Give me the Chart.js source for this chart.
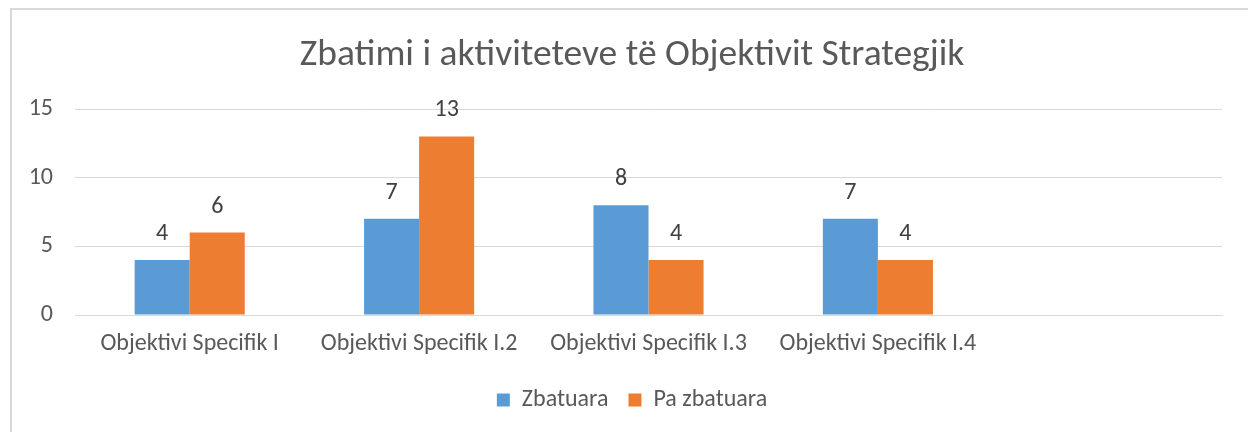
<!DOCTYPE html>
<html>
<head>
<meta charset="utf-8">
<script src="https://cdn.jsdelivr.net/npm/chart.js@4/dist/chart.umd.min.js"></script>
<style>
  html, body { margin: 0; padding: 0; background: #fff; }
  #frame { position: absolute; left: 10px; top: 8px; width: 1300px; height: 500px;
           border: 2px solid #d9d9d9; box-sizing: border-box; }
  #wrap { position: absolute; left: 0; top: 0; width: 1248px; height: 432px; }
</style>
</head>
<body>
<div id="frame"></div>
<div id="wrap"><canvas id="chartStrategjik" width="1248" height="432"></canvas></div>
<script>
// data
var categories = ['Objektivi Specifik I', 'Objektivi Specifik I.2', 'Objektivi Specifik I.3', 'Objektivi Specifik I.4', ''];
var zbatuara = [4, 7, 8, 7, null];
var paZbatuara = [6, 13, 4, 4, null];
var seriesNames = ['Zbatuara', 'Pa zbatuara'];
var yTicks = [0, 5, 10, 15];

var fontFam = 'Carlito, Lato, "Open Sans", sans-serif';
var grey = '#595959';

// value labels above each bar
var barLabels = {
  id: 'barLabels',
  afterDatasetsDraw: function(chart) {
    var ctx = chart.ctx;
    ctx.save();
    ctx.font = '24px ' + fontFam;
    ctx.fillStyle = '#404040';
    ctx.textAlign = 'center';
    ctx.textBaseline = 'middle';
    chart.data.datasets.forEach(function(ds, i) {
      chart.getDatasetMeta(i).data.forEach(function(bar, j) {
        if (ds.data[j] == null) return;
        ctx.fillText(ds.data[j], bar.x, bar.y - 26);
      });
    });
    ctx.restore();
  }
};

var ctx = document.getElementById('chartStrategjik').getContext('2d');
var chartStrategjik = new Chart(ctx, {
  type: 'bar',
  data: {
    labels: categories,
    datasets: [{
      label: seriesNames[0],
      backgroundColor: '#5B9BD5',
      data: zbatuara
    }, {
      label: seriesNames[1],
      backgroundColor: '#ED7D31',
      data: paZbatuara
    }]
  },
  options: {
    responsive: false,
    animation: false,
    layout: { padding: { left: 27, right: 11, top: 0, bottom: 10 } },
    datasets: { bar: { categoryPercentage: 0.48, barPercentage: 1 } },
    plugins: {
      title: {
        display: true,
        text: 'Zbatimi i aktiviteteve të Objektivit Strategjik',
        color: grey,
        font: { family: fontFam, size: 37.5, weight: 'normal' },
        padding: { top: 33, bottom: 31 }
      },
      legend: {
        position: 'bottom',
        labels: {
          color: grey,
          font: { family: fontFam, size: 24 },
          boxWidth: 13,
          boxHeight: 13,
          padding: 20
        }
      },
      tooltip: { enabled: false }
    },
    scales: {
      x: {
        grid: { display: false },
        border: { color: '#d9d9d9' },
        ticks: { color: grey, font: { family: fontFam, size: 24 }, padding: 7, maxRotation: 0 },
        afterFit: function(s) { s.height = 53; }
      },
      y: {
        min: 0,
        max: 15,
        afterBuildTicks: function(s) { s.ticks = yTicks.map(function(v) { return { value: v }; }); },
        grid: { color: '#d9d9d9', drawTicks: false },
        border: { display: false },
        ticks: { color: grey, font: { family: fontFam, size: 24 }, padding: 22 },
        afterFit: function(s) { s.width = 48; }
      },
      // empty right-side spacer so the plot ends where the reference's does
      y2: {
        type: 'linear',
        position: 'right',
        grid: { display: false },
        border: { display: false },
        ticks: { display: false },
        afterFit: function(s) { s.width = 15; }
      }
    }
  },
  plugins: [barLabels]
});
</script>
</body>
</html>
